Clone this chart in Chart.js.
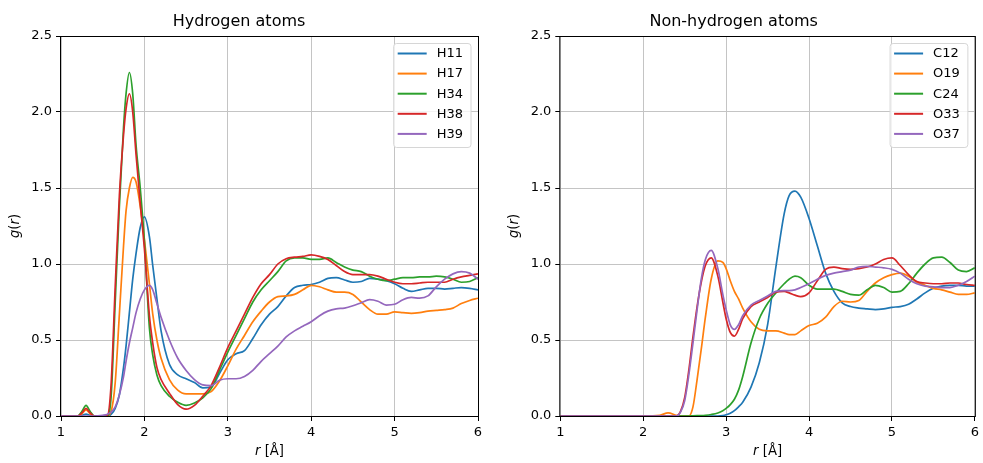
<!DOCTYPE html>
<html>
<head>
<meta charset="utf-8">
<script src="https://cdn.jsdelivr.net/npm/chart.js@4.4.1/dist/chart.umd.min.js"></script>
<style>
  html, body { margin: 0; padding: 0; background: #fff; }
  canvas { position: absolute; top: 0; }
  #hChart { left: 0; }
  #nhChart { left: 490px; }
</style>
</head>
<body>
<canvas id="hChart" width="490" height="463"></canvas>
<canvas id="nhChart" width="493" height="463"></canvas>
<script>
// r grid [Å] for the hydrogen panel
const rHydrogen = [1.0, 1.2, 1.25, 1.3, 1.35, 1.4, 1.5, 1.55, 1.6, 1.65, 1.7, 1.75, 1.78, 1.82, 1.86, 1.9, 1.95,
  2.0, 2.06, 2.1, 2.15, 2.2, 2.3, 2.4, 2.5, 2.6, 2.7, 2.8, 2.9, 3.0,
  3.1, 3.2, 3.3, 3.4, 3.5, 3.6, 3.7, 3.8, 3.9, 4.0, 4.1, 4.2, 4.3, 4.4, 4.5, 4.6, 4.7, 4.8, 4.9, 5.0,
  5.1, 5.2, 5.3, 5.4, 5.5, 5.6, 5.7, 5.8, 5.9, 6.0];

const h11 = [0, 0, 0.005, 0.012, 0.005, 0, 0, 0, 0.01, 0.05, 0.14, 0.32, 0.46, 0.68, 0.9, 1.07, 1.24,
  1.31, 1.18, 0.99, 0.77, 0.56, 0.34, 0.27, 0.245, 0.22, 0.185, 0.19, 0.28, 0.37,
  0.41, 0.43, 0.51, 0.6, 0.67, 0.72, 0.79, 0.845, 0.86, 0.865, 0.88, 0.905, 0.91, 0.895, 0.88, 0.885, 0.905, 0.9, 0.89, 0.87,
  0.84, 0.82, 0.83, 0.84, 0.84, 0.835, 0.84, 0.845, 0.84, 0.83];
const h17 = [0, 0, 0.015, 0.04, 0.015, 0, 0, 0, 0.03, 0.22, 0.67, 1.12, 1.35, 1.5, 1.57, 1.54, 1.38,
  1.16, 0.87, 0.67, 0.5, 0.38, 0.24, 0.17, 0.145, 0.145, 0.145, 0.16, 0.23, 0.33,
  0.44, 0.53, 0.62, 0.69, 0.75, 0.785, 0.79, 0.8, 0.83, 0.86, 0.85, 0.83, 0.815, 0.815, 0.8, 0.75, 0.7, 0.67, 0.67, 0.685,
  0.68, 0.675, 0.68, 0.69, 0.695, 0.7, 0.71, 0.74, 0.76, 0.775];
const h34 = [0, 0, 0.03, 0.07, 0.03, 0, 0, 0, 0.12, 0.75, 1.38, 1.9, 2.12, 2.26, 2.12, 1.78, 1.5,
  1.15, 0.58, 0.4, 0.27, 0.2, 0.13, 0.09, 0.07, 0.085, 0.12, 0.18, 0.3, 0.42,
  0.53, 0.64, 0.75, 0.83, 0.89, 0.95, 1.02, 1.04, 1.04, 1.03, 1.03, 1.04, 1.01, 0.98, 0.96, 0.95, 0.92, 0.9, 0.89, 0.9,
  0.91, 0.91, 0.915, 0.915, 0.92, 0.915, 0.9, 0.88, 0.885, 0.91];
const h38 = [0, 0, 0.02, 0.05, 0.02, 0, 0, 0, 0.2, 0.85, 1.45, 1.85, 2.02, 2.12, 2.0, 1.72, 1.4,
  1.1, 0.66, 0.48, 0.32, 0.24, 0.15, 0.075, 0.045, 0.07, 0.13, 0.2, 0.32, 0.45,
  0.56, 0.67, 0.78, 0.87, 0.93, 1.0, 1.035, 1.045, 1.05, 1.06, 1.05, 1.03, 0.99, 0.95, 0.93, 0.93, 0.93, 0.92, 0.9, 0.88,
  0.87, 0.87, 0.875, 0.88, 0.88, 0.88, 0.9, 0.915, 0.925, 0.935];
const h39 = [0, 0, 0, 0, 0, 0, 0.005, 0.01, 0.025, 0.06, 0.14, 0.26, 0.36, 0.48, 0.58, 0.68, 0.77,
  0.83, 0.86, 0.83, 0.74, 0.65, 0.5, 0.38, 0.3, 0.24, 0.205, 0.2, 0.235, 0.245,
  0.245, 0.26, 0.3, 0.36, 0.41, 0.46, 0.52, 0.56, 0.59, 0.62, 0.66, 0.69, 0.705, 0.71, 0.725, 0.745, 0.765, 0.755, 0.73, 0.735,
  0.765, 0.78, 0.775, 0.79, 0.85, 0.9, 0.935, 0.95, 0.94, 0.9];

// r grid [Å] for the non-hydrogen panel
const rHeavy = [1.0, 2.0, 2.2, 2.3, 2.4, 2.45, 2.5, 2.55, 2.6, 2.65, 2.7, 2.75,
  2.82, 2.9, 2.96, 3.0, 3.05, 3.1, 3.15, 3.2, 3.3, 3.4, 3.5, 3.6, 3.7, 3.76, 3.83, 3.9,
  4.0, 4.1, 4.2, 4.3, 4.4, 4.5, 4.6, 4.7, 4.8, 4.9, 5.0, 5.1, 5.2, 5.3, 5.4, 5.5, 5.6, 5.7, 5.8, 5.9, 6.0];

const c12 = [0, 0, 0, 0, 0, 0, 0, 0, 0, 0, 0, 0,
  0, 0, 0.003, 0.008, 0.018, 0.035, 0.06, 0.09, 0.19, 0.35, 0.6, 0.98, 1.33, 1.45, 1.48, 1.44,
  1.3, 1.12, 0.94, 0.82, 0.745, 0.72, 0.71, 0.705, 0.7, 0.705, 0.715, 0.72, 0.735, 0.77, 0.81, 0.84, 0.855, 0.86, 0.86, 0.855, 0.855];
const o19 = [0, 0, 0.005, 0.02, 0.005, 0, 0, 0, 0.06, 0.24, 0.44, 0.65,
  0.9, 1.02, 1.01, 0.97, 0.89, 0.82, 0.77, 0.71, 0.62, 0.57, 0.56, 0.56, 0.545, 0.535, 0.535, 0.56,
  0.595, 0.61, 0.65, 0.72, 0.755, 0.75, 0.76, 0.82, 0.875, 0.91, 0.93, 0.94, 0.92, 0.88, 0.86, 0.84, 0.83, 0.815, 0.8, 0.8, 0.81];
const c24 = [0, 0, 0, 0, 0, 0, 0, 0, 0.001, 0.002, 0.003, 0.005,
  0.01, 0.02, 0.035, 0.05, 0.075, 0.11, 0.17, 0.26, 0.48, 0.64, 0.74, 0.81, 0.87, 0.9, 0.92, 0.91,
  0.86, 0.835, 0.835, 0.835, 0.82, 0.8, 0.795, 0.83, 0.86, 0.845, 0.815, 0.82, 0.87, 0.94, 1.0, 1.04, 1.045, 1.01, 0.96, 0.95, 0.975];
const o33 = [0, 0, 0, 0, 0, 0.03, 0.12, 0.3, 0.52, 0.72, 0.88, 0.99,
  1.04, 0.92, 0.75, 0.64, 0.55, 0.525, 0.57, 0.64, 0.72, 0.75, 0.78, 0.815, 0.82, 0.81, 0.795, 0.785,
  0.81, 0.89, 0.965, 0.98, 0.97, 0.965, 0.97, 0.98, 1.0, 1.03, 1.04, 0.99, 0.93, 0.885, 0.875, 0.87, 0.87, 0.875, 0.875, 0.865, 0.86];
const o37 = [0, 0, 0, 0, 0, 0.025, 0.1, 0.27, 0.48, 0.7, 0.9, 1.03,
  1.09, 0.97, 0.8, 0.7, 0.6, 0.57, 0.6, 0.66, 0.73, 0.76, 0.79, 0.82, 0.825, 0.825, 0.83, 0.845,
  0.87, 0.9, 0.925, 0.94, 0.95, 0.96, 0.98, 0.985, 0.98, 0.975, 0.965, 0.94, 0.9, 0.87, 0.855, 0.85, 0.845, 0.845, 0.86, 0.885, 0.92];

const hLabels = ["H11", "H17", "H34", "H38", "H39"];
const nhLabels = ["C12", "O19", "C24", "O33", "O37"];
const xTicks = [1, 2, 3, 4, 5, 6];
const yTicks = [0, 0.5, 1.0, 1.5, 2.0, 2.5];

const colors = ["#1f77b4", "#ff7f0e", "#2ca02c", "#d62728", "#9467bd"];
const FONT = "'DejaVu Sans', sans-serif";

Chart.defaults.font.family = FONT;
Chart.defaults.color = "#000";

const makeDatasets = (rs, series, labels) =>
  series.map((ys, i) => ({
    label: labels[i],
    data: rs.map((r, j) => ({ x: r, y: ys[j] })),
    borderColor: colors[i],
    borderWidth: 1.7,
    pointRadius: 0,
    fill: false,
    cubicInterpolationMode: "monotone",
    order: series.length - i, // later series on top, like matplotlib
  }));

// draws mixed italic / upright text centred on (x, y)
function drawParts(ctx, parts, x, y, size) {
  const fonts = parts.map(([, it]) => `${it ? "italic " : ""}${size}px ${FONT}`);
  const widths = parts.map(([t], i) => {
    ctx.font = fonts[i];
    return ctx.measureText(t).width;
  });
  let cx = x - widths.reduce((a, b) => a + b, 0) / 2;
  ctx.textAlign = "left";
  ctx.textBaseline = "middle";
  parts.forEach(([t], i) => {
    ctx.font = fonts[i];
    ctx.fillText(t, cx, y);
    cx += widths[i];
  });
}

const framePlugin = {
  id: "frame",
  afterDraw(chart, args, opts) {
    const { ctx, chartArea: a } = chart;
    ctx.save();
    // spines
    ctx.strokeStyle = "#000";
    ctx.lineWidth = 1;
    ctx.strokeRect(a.left - 0.5, a.top + 0.5, a.right - a.left + 1, a.bottom - a.top);

    // axis labels
    ctx.fillStyle = "#000";
    drawParts(ctx, [["r", true], [" [Å]", false]], (a.left + a.right) / 2, 452, 13.2);
    ctx.save();
    ctx.translate(opts.yLabelX, (a.top + a.bottom) / 2);
    ctx.rotate(-Math.PI / 2);
    drawParts(ctx, [["g", true], ["(", false], ["r", true], [")", false]], 0, 0, 13.2);
    ctx.restore();

    // legend box, upper right
    const sets = chart.data.datasets;
    ctx.font = `13px ${FONT}`;
    const tw = Math.max(...sets.map((d) => ctx.measureText(d.label).width));
    const w = 43.5 + tw + 7.5;
    const h = 104;
    const x0 = a.right - 7.5 - w;
    const y0 = a.top + 7;
    ctx.beginPath();
    ctx.roundRect(x0 + 0.5, y0 + 0.5, w, h, 3);
    ctx.fillStyle = "rgba(255,255,255,0.8)";
    ctx.fill();
    ctx.strokeStyle = "#d6d6d6";
    ctx.stroke();
    sets.forEach((d, i) => {
      const y = y0 + 10.5 + i * 20.1;
      ctx.beginPath();
      ctx.moveTo(x0 + 4.5, y);
      ctx.lineTo(x0 + 33.5, y);
      ctx.strokeStyle = d.borderColor;
      ctx.lineWidth = 2;
      ctx.stroke();
      ctx.fillStyle = "#000";
      ctx.textAlign = "left";
      ctx.textBaseline = "middle";
      ctx.fillText(d.label, x0 + 43.5, y + 0.5);
    });
    ctx.restore();
  },
};

function createPanel(canvasId, title, rs, series, labels, yAxisWidth, rightPad, yLabelX) {
  const ctx = document.getElementById(canvasId).getContext("2d");
  return new Chart(ctx, {
    type: "line",
    data: { datasets: makeDatasets(rs, series, labels) },
    options: {
      responsive: false,
      animation: false,
      events: [],
      layout: { padding: { left: 0, right: rightPad, top: 0, bottom: 0 } },
      scales: {
        x: {
          type: "linear",
          min: xTicks[0],
          max: xTicks[xTicks.length - 1],
          afterBuildTicks: (scale) => {
            scale.ticks = xTicks.map((v) => ({ value: v }));
          },
          afterFit: (scale) => {
            scale.height = 47;
          },
          ticks: {
            font: { size: 13 },
            color: "#000",
            padding: 4,
            maxRotation: 0,
            callback: (v) => String(v),
          },
          grid: { color: "#c4c4c4", lineWidth: 1, tickLength: 5, tickColor: "#000" },
          border: { display: false },
        },
        y: {
          type: "linear",
          min: yTicks[0],
          max: yTicks[yTicks.length - 1],
          afterBuildTicks: (scale) => {
            scale.ticks = yTicks.map((v) => ({ value: v }));
          },
          afterFit: (scale) => {
            scale.width = yAxisWidth;
          },
          ticks: {
            font: { size: 13 },
            color: "#000",
            padding: 4,
            callback: (v) => Number(v).toFixed(1),
          },
          grid: { color: "#c4c4c4", lineWidth: 1, tickLength: 5, tickColor: "#000" },
          border: { display: false },
        },
      },
      plugins: {
        legend: { display: false },
        tooltip: { enabled: false },
        title: {
          display: true,
          text: title,
          color: "#000",
          font: { size: 16, weight: "normal" },
          padding: { top: 12.4, bottom: 4.4 },
        },
        frame: { yLabelX },
      },
    },
    plugins: [framePlugin],
  });
}

createPanel("hChart", "Hydrogen atoms", rHydrogen, [h11, h17, h34, h38, h39], hLabels, 61, 12, 16);
createPanel("nhChart", "Non-hydrogen atoms", rHeavy, [c12, o19, c24, o33, o37], nhLabels, 70.3, 5.7, 25);
</script>
</body>
</html>
